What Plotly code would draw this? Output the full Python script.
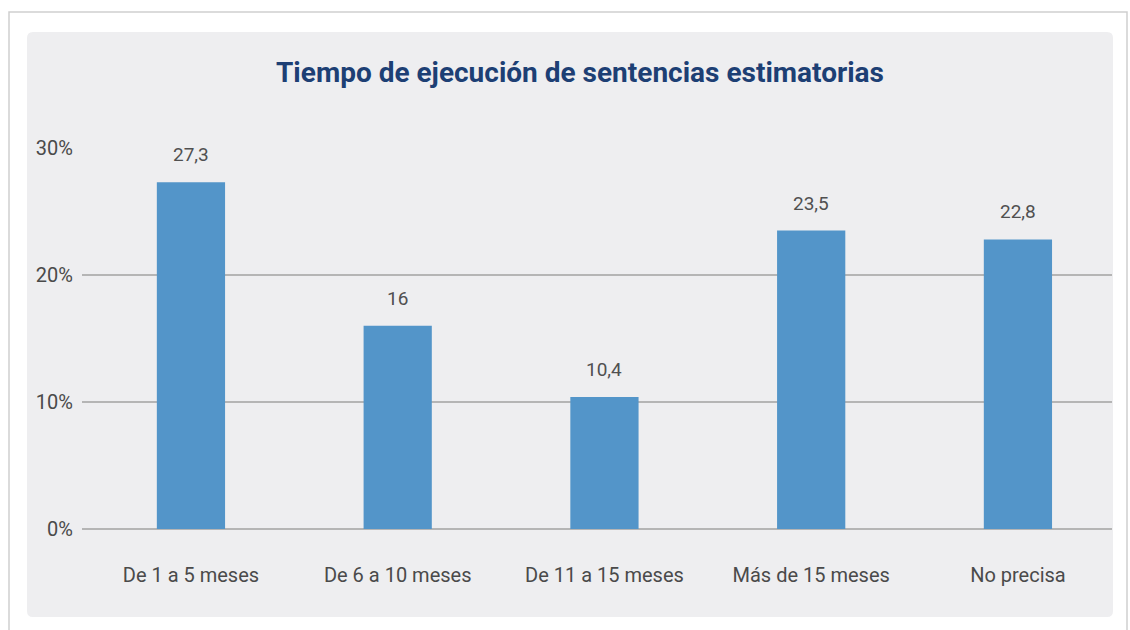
import plotly.graph_objects as go

categories = ["De 1 a 5 meses", "De 6 a 10 meses", "De 11 a 15 meses", "Más de 15 meses", "No precisa"]
values = [27.3, 16, 10.4, 23.5, 22.8]
y_ticks = [0, 10, 20, 30]
y_tick_labels = ["0%", "10%", "20%", "30%"]
title_text = "Tiempo de ejecución de sentencias estimatorias"

W, H = 1130, 630
ML, MR, MT, MB = 82, 18, 148, 101
PW = W - ML - MR
PH = H - MT - MB

def px_x(p):
    return (p - ML) / PW

def px_y(p):
    return 1 - (p - MT) / PH

font_family = "Roboto, 'Open Sans', sans-serif"

fig = go.Figure()
fig.add_trace(go.Bar(
    x=categories,
    y=values,
    marker=dict(color="#5395C9", line=dict(width=0)),
    width=0.33,
    hoverinfo="x+y",
))

# value labels
for c, v in zip(categories, values):
    fig.add_annotation(
        x=c, y=v, xref="x", yref="y",
        text=f"{v:g}".replace(".", ","),
        showarrow=False, yanchor="bottom", yshift=14,
        font=dict(family=font_family, size=19, color="#505050"),
    )

def rounded_path(x0, y0, x1, y1, r):
    rx = r / PW
    ry = r / PH
    X0, X1 = px_x(x0), px_x(x1)
    Y0, Y1 = px_y(y0), px_y(y1)
    return (f"M {X0+rx},{Y0} L {X1-rx},{Y0} Q {X1},{Y0} {X1},{Y0-ry} "
            f"L {X1},{Y1+ry} Q {X1},{Y1} {X1-rx},{Y1} "
            f"L {X0+rx},{Y1} Q {X0},{Y1} {X0},{Y1+ry} "
            f"L {X0},{Y0-ry} Q {X0},{Y0} {X0+rx},{Y0} Z")

fig.add_shape(type="rect", xref="paper", yref="paper",
              x0=px_x(9), x1=px_x(1127), y0=px_y(12), y1=px_y(640),
              line=dict(color="#CFCFCF", width=1.5), fillcolor="white", layer="below")
fig.add_shape(type="path", xref="paper", yref="paper",
              path=rounded_path(27, 32, 1113, 617, 6),
              line=dict(width=0), fillcolor="#EEEEF0", layer="below")

fig.update_layout(
    width=W, height=H,
    margin=dict(l=ML, r=MR, t=MT, b=MB, pad=0),
    paper_bgcolor="white",
    plot_bgcolor="rgba(0,0,0,0)",
    showlegend=False,
    bargap=0.67,
    title=dict(
        text=title_text,
        x=px_x(580), xref="paper", xanchor="center",
        y=1 - 72 / H, yref="container", yanchor="middle",
        font=dict(family=font_family, size=28, color="#1D3F74", weight="bold"),
    ),
    xaxis=dict(
        type="category",
        range=[-0.527, 4.455],
        showgrid=False,
        showline=False,
        zeroline=False,
        ticks="outside", ticklen=28, tickcolor="rgba(0,0,0,0)",
        tickfont=dict(family=font_family, size=20, color="#4A4A4A"),
    ),
    yaxis=dict(
        range=[0, 30],
        tickvals=y_ticks,
        ticktext=y_tick_labels,
        showgrid=True, gridcolor="#B5B5B5", gridwidth=2,
        zeroline=True, zerolinecolor="#B5B5B5", zerolinewidth=2,
        showline=False,
        ticks="outside", ticklen=4, tickcolor="rgba(0,0,0,0)",
        tickfont=dict(family=font_family, size=20, color="#4A4A4A"),
    ),
)

fig.write_html("out.html", config={"displayModeBar": False},
               post_script="document.body.style.margin='0';")
